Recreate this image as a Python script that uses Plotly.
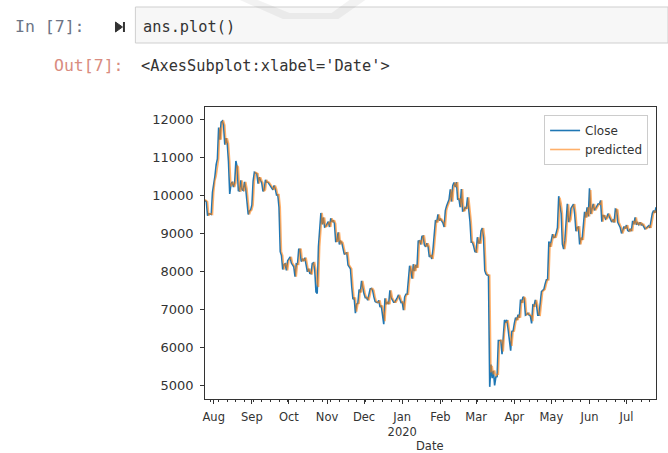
import pandas as pd
import plotly.graph_objects as go

# ---------------- data ----------------
start_date = "2019-07-25"
end_date = "2020-07-25"

close = [
    # Jul 25-31 2019
    9880, 9850, 9480, 9530, 9520, 9510, 10090,
    # Aug
    10400, 10520, 10820, 10970, 11800, 11480, 11940, 11970, 11860, 11350, 11520, 11380, 10900, 10050, 10310, 10370,
    10230, 10340, 10920, 10760, 10140, 10130, 10410, 10160, 10140, 10370, 10190, 9750, 9510, 9600, 9630,
    # Sep
    9760, 10390, 10620, 10590, 10580, 10320, 10490, 10410, 10340, 10120, 10160, 10420, 10360, 10360, 10310,
    10260, 10190, 10160, 10270, 10180, 10020, 10030, 9700, 8530, 8430, 8060, 8190, 8210, 8040, 8290,
    # Oct
    8340, 8390, 8230, 8160, 8130, 7870, 8210, 8200, 8590, 8590, 8270, 8330, 8300, 8370, 8170, 8000,
    8080, 7960, 7950, 8220, 8240, 8050, 7470, 7430, 8660, 9250, 9550, 9250, 9430, 9180, 9200,
    # Nov
    9260, 9320, 9180, 9410, 9310, 9360, 9270, 8800, 8810, 9040, 8720, 8800, 8760, 8620, 8460,
    8490, 8500, 8180, 8120, 8080, 7620, 7280, 7320, 6910, 7150, 7170, 7530, 7460, 7760, 7570,
    # Dec
    7420, 7320, 7320, 7250, 7450, 7550, 7560, 7510, 7340, 7220, 7200, 7190, 7250, 7070, 7110, 6880,
    6620, 7300, 7150, 7190, 7150, 7510, 7320, 7260, 7200, 7200, 7250, 7320, 7390, 7250, 7190,
    # Jan 2020
    7200, 6990, 7340, 7410, 7410, 7770, 8160, 8040, 7820, 8200, 8020, 8180, 8110, 8810, 8820, 8720,
    8930, 8940, 8710, 8660, 8750, 8660, 8390, 8440, 8340, 8600, 8910, 9360, 9300, 9510, 9350,
    # Feb
    9390, 9340, 9290, 9180, 9610, 9730, 9800, 9900, 10170, 9850, 10270, 10350, 10230, 10360, 9900,
    9930, 9700, 10180, 9600, 9610, 9690, 9660, 9960, 9650, 9320, 8780, 8780, 8670, 8530,
    # Mar
    8520, 8910, 8760, 8760, 9080, 9150, 8890, 8030, 7940, 7910, 7910, 4970, 5560, 5200, 5390, 5010,
    5230, 5240, 6190, 6200, 6190, 5830, 6420, 6730, 6680, 6730, 6470, 6240, 5920, 6430, 6440,
    # Apr
    6640, 6790, 6730, 6870, 6790, 7270, 7180, 7340, 7300, 6860, 6880, 6910, 6860, 6840, 6640,
    7120, 7100, 7260, 7120, 6860, 6860, 7130, 7480, 7510, 7540, 7680, 7790, 7790, 8800, 8660,
    # May
    8860, 8990, 8900, 8910, 9030, 9160, 9990, 9800, 9540, 8730, 8600, 8820, 9320, 9790, 9310, 9380,
    9670, 9730, 9780, 9510, 9070, 9170, 9180, 8720, 8900, 8840, 9200, 9580, 9430, 9700, 9460,
    # Jun
    10200, 9520, 9670, 9790, 9620, 9670, 9750, 9790, 9780, 9880, 9320, 9480, 9470, 9390, 9430,
    9530, 9460, 9390, 9310, 9360, 9300, 9650, 9630, 9300, 9240, 9160, 9010, 9120, 9190, 9140,
    # Jul 1-25
    9230, 9090, 9070, 9130, 9070, 9340, 9250, 9430, 9240, 9290, 9240, 9300, 9240, 9250, 9200,
    9130, 9150, 9170, 9210, 9160, 9390, 9540, 9610, 9550, 9700,
]

predicted = [
    # Jul 25-31 2019
    9900, 9880, 9850, 9480, 9530, 9520, 9510,
    # Aug
    10090, 10400, 10520, 10820, 10970, 11800, 11480, 11940, 11970, 11860, 11350, 11520, 11380, 10900, 10250, 10310,
    10370, 10230, 10340, 10800, 10760, 10140, 10130, 10410, 10160, 10140, 10370, 10190, 9750, 9510, 9600,
    # Sep
    9630, 9760, 10390, 10620, 10590, 10580, 10320, 10490, 10410, 10340, 10120, 10160, 10420, 10360, 10360,
    10310, 10260, 10190, 10160, 10270, 10180, 10020, 10030, 9700, 8530, 8430, 8060, 8190, 8210, 8040,
    # Oct
    8290, 8340, 8390, 8230, 8160, 8130, 7870, 8210, 8200, 8590, 8590, 8270, 8330, 8300, 8370, 8170,
    8000, 8080, 7960, 7950, 8220, 8240, 8050, 7700, 7600, 8660, 9250, 9550, 9250, 9430, 9180,
    # Nov
    9200, 9260, 9320, 9180, 9410, 9310, 9360, 9270, 8800, 8810, 9040, 8720, 8800, 8760, 8620,
    8460, 8490, 8500, 8180, 8120, 8080, 7620, 7280, 7320, 6950, 7150, 7170, 7530, 7460, 7760,
    # Dec
    7570, 7420, 7320, 7320, 7250, 7450, 7550, 7560, 7510, 7340, 7220, 7200, 7190, 7250, 7070, 7110,
    6880, 6700, 7300, 7150, 7190, 7150, 7510, 7320, 7260, 7200, 7200, 7250, 7320, 7390, 7250,
    # Jan 2020
    7190, 7200, 6990, 7340, 7410, 7410, 7770, 8160, 8040, 7820, 8200, 8020, 8180, 8110, 8810, 8820,
    8720, 8930, 8940, 8710, 8660, 8750, 8660, 8390, 8440, 8340, 8600, 8910, 9360, 9300, 9510,
    # Feb
    9350, 9390, 9340, 9290, 9180, 9610, 9730, 9800, 9900, 10170, 9850, 10270, 10350, 10230, 10360,
    9900, 9930, 9700, 10180, 9600, 9610, 9690, 9660, 9960, 9650, 9320, 8780, 8780, 8670,
    # Mar
    8530, 8520, 8910, 8760, 8760, 9080, 9150, 8890, 8030, 7940, 7910, 7910, 5350, 5520, 5300, 5400,
    5250, 5300, 5300, 6150, 6200, 6190, 5900, 6400, 6650, 6680, 6700, 6470, 6260, 6050, 6420,
    # Apr
    6440, 6640, 6790, 6730, 6870, 6790, 7250, 7180, 7340, 7300, 6870, 6880, 6910, 6860, 6840,
    6700, 7120, 7100, 7260, 7120, 6880, 6860, 7130, 7480, 7510, 7540, 7680, 7790, 7790, 8750,
    # May
    8660, 8860, 8990, 8900, 8910, 9030, 9160, 9950, 9800, 9540, 8750, 8600, 8820, 9320, 9780, 9310,
    9380, 9670, 9730, 9780, 9510, 9070, 9170, 9180, 8720, 8900, 8840, 9200, 9580, 9430, 9700,
    # Jun
    9460, 10150, 9520, 9670, 9790, 9620, 9670, 9750, 9790, 9780, 9880, 9320, 9480, 9470, 9390,
    9430, 9530, 9460, 9390, 9310, 9360, 9300, 9650, 9630, 9300, 9240, 9160, 9010, 9120, 9190,
    # Jul 1-25
    9140, 9230, 9090, 9070, 9130, 9070, 9340, 9250, 9430, 9240, 9290, 9240, 9300, 9240, 9250,
    9200, 9130, 9150, 9170, 9210, 9160, 9390, 9540, 9610, 9550,
]

month_ticks = ["2019-08-01", "2019-09-01", "2019-10-01", "2019-11-01", "2019-12-01", "2020-01-01",
               "2020-02-01", "2020-03-01", "2020-04-01", "2020-05-01", "2020-06-01", "2020-07-01"]
month_labels = ["Aug", "Sep", "Oct", "Nov", "Dec", "Jan<br>2020", "Feb", "Mar", "Apr", "May", "Jun", "Jul"]
y_ticks = [5000, 6000, 7000, 8000, 9000, 10000, 11000, 12000]

dates = pd.date_range(start_date, end_date, freq="D")
assert len(dates) == len(close) == len(predicted), (len(dates), len(close), len(predicted))

# ---------------- figure ----------------
W, H = 668, 453


def px(x):
    return x / W


def py(y):
    return 1 - y / H


fig = go.Figure()
fig.add_trace(go.Scatter(x=dates, y=close, mode="lines", name="Close",
                         line=dict(color="#1f77b4", width=1.6)))
fig.add_trace(go.Scatter(x=dates, y=predicted, mode="lines", name="predicted",
                         line=dict(color="rgba(255,127,14,0.62)", width=1.6)))

axis_col = "#333333"
fig.update_layout(
    width=W, height=H,
    margin=dict(l=0, r=0, t=0, b=0),
    paper_bgcolor="white", plot_bgcolor="white",
    font=dict(family="DejaVu Sans", size=12, color=axis_col),
    showlegend=True,
    legend=dict(x=px(648), y=py(115), xanchor="right", yanchor="top",
                bgcolor="rgba(255,255,255,0.85)", bordercolor="#cccccc", borderwidth=1,
                font=dict(family="DejaVu Sans", size=12, color="#333333"),
                tracegroupgap=0),
    xaxis=dict(
        domain=[px(203), px(656)],
        range=[dates[0], dates[-1]],
        tickvals=month_ticks, ticktext=month_labels,
        ticks="outside", ticklen=4, tickcolor=axis_col, tickwidth=1,
        ticklabelstandoff=3,
        showline=True, linecolor=axis_col, linewidth=1, mirror=True,
        showgrid=False, zeroline=False,
        tickfont=dict(size=11.5, color=axis_col),
        minor=dict(ticks="outside", ticklen=2, tickcolor=axis_col, dtick=7 * 86400000,
                   tick0="2019-07-29", showgrid=False),
    ),
    yaxis=dict(
        domain=[py(399), py(107)],
        range=[4650, 12340],
        tickvals=y_ticks, tickformat="d",
        ticks="outside", ticklen=4, tickcolor=axis_col, tickwidth=1,
        ticklabelstandoff=4,
        showline=True, linecolor=axis_col, linewidth=1, mirror=True,
        showgrid=False, zeroline=False,
        tickfont=dict(size=13, color=axis_col),
    ),
)

shapes = []
# notebook input box
shapes.append(dict(type="rect", xref="paper", yref="paper",
                   x0=px(133), x1=px(668), y0=py(43), y1=py(7),
                   fillcolor="#f7f7f7", line=dict(color="#cfcfcf", width=1), layer="below"))
# run icon (triangle + bar)
shapes.append(dict(type="path", xref="paper", yref="paper",
                   path=f"M{px(113)},{py(22)} L{px(120)},{py(27)} L{px(113)},{py(32)} Z",
                   fillcolor="#333333", line=dict(color="#333333", width=1)))
shapes.append(dict(type="rect", xref="paper", yref="paper",
                   x0=px(120.5), x1=px(122.5), y0=py(32), y1=py(22),
                   fillcolor="#333333", line=dict(width=0)))
# faint watermark band
wm = [(238, 0), (281, 19), (337, 19), (364, 0), (348, 0), (330, 13), (288, 13), (256, 0)]
wm_path = "M" + " L".join(f"{px(a)},{py(b)}" for a, b in wm) + " Z"
shapes.append(dict(type="path", xref="paper", yref="paper", path=wm_path,
                   fillcolor="rgba(0,0,0,0.05)", line=dict(width=0)))
fig.update_layout(shapes=shapes)

mono = "DejaVu Sans Mono"
ann = [
    dict(text="In [7]:", x=px(10), y=py(27), color="#6d7486", size=16.5),
    dict(text="ans.plot()", x=px(139), y=py(27), color="#333333", size=15.3),
    dict(text="Out[7]:", x=px(49), y=py(66), color="#d98c80", size=16.5),
    dict(text="&lt;AxesSubplot:xlabel='Date'&gt;", x=px(137), y=py(66), color="#333333", size=15.3),
]
for a in ann:
    fig.add_annotation(text=a["text"], x=a["x"], y=a["y"], xref="paper", yref="paper",
                       xanchor="left", yanchor="middle", showarrow=False,
                       font=dict(family=mono, size=a["size"], color=a["color"]))

fig.add_annotation(text="Date", x=px(429), y=py(446), xref="paper", yref="paper",
                   xanchor="center", yanchor="middle", showarrow=False, borderpad=0,
                   font=dict(family="DejaVu Sans", size=11.5, color=axis_col))

fig.write_html("out.html")
